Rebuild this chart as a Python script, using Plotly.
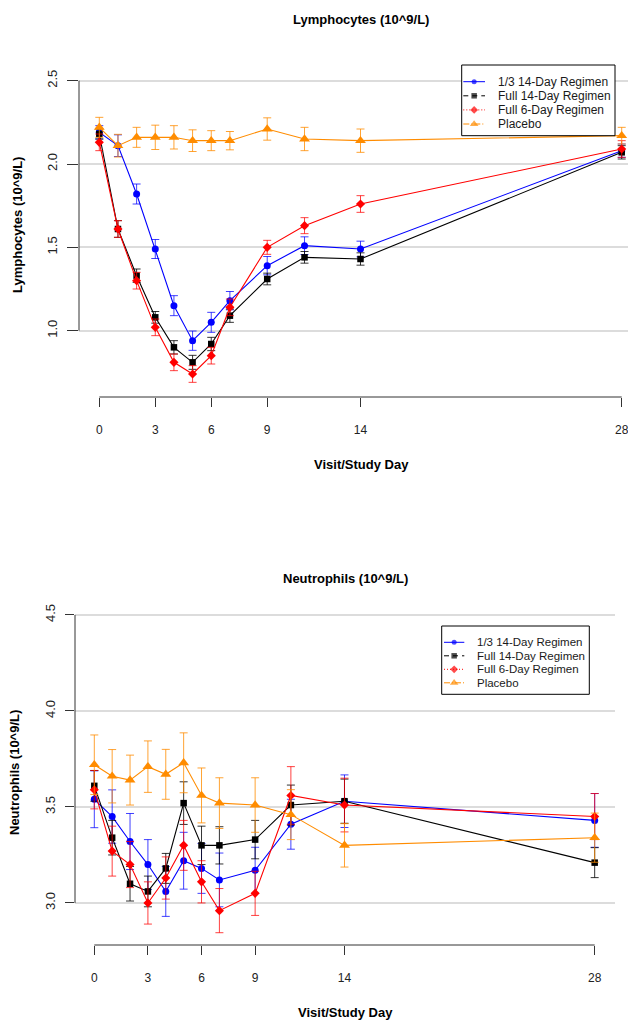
import plotly.graph_objects as go

# page body has an 8px default margin; the figure is sized/offset to fill the 636x1026 window
OFF = 8
W, H = 636 - OFF, 1026 - OFF

# ---------------- data ----------------
days = [0, 1, 2, 3, 4, 5, 6, 7, 9, 11, 14, 28]
x_tick_vals = [0, 3, 6, 9, 14, 28]
x_tick_text = ["0", "3", "6", "9", "14", "28"]

series_names = ["1/3 14-Day Regimen", "Full 14-Day Regimen", "Full 6-Day Regimen", "Placebo"]

lym_third14 = [2.19, 2.11, 1.82, 1.49, 1.15, 0.94, 1.05, 1.18, 1.39, 1.51, 1.49, 2.08]
lym_third14_se = [0.04, 0.065, 0.06, 0.057, 0.06, 0.058, 0.06, 0.055, 0.055, 0.053, 0.047, 0.04]
lym_full14 = [2.18, 1.61, 1.33, 1.08, 0.90, 0.81, 0.92, 1.09, 1.31, 1.44, 1.43, 2.07]
lym_full14_se = [0.03, 0.05, 0.04, 0.035, 0.04, 0.042, 0.04, 0.04, 0.035, 0.035, 0.037, 0.04]
lym_full6 = [2.13, 1.61, 1.30, 1.02, 0.81, 0.74, 0.85, 1.14, 1.50, 1.63, 1.76, 2.09]
lym_full6_se = [0.05, 0.05, 0.05, 0.05, 0.05, 0.05, 0.05, 0.05, 0.042, 0.048, 0.05, 0.05]
lym_placebo = [2.22, 2.11, 2.16, 2.16, 2.16, 2.14, 2.14, 2.14, 2.21, 2.15, 2.14, 2.17]
lym_placebo_se = [0.06, 0.068, 0.06, 0.073, 0.07, 0.065, 0.06, 0.055, 0.067, 0.07, 0.07, 0.05]
lym_y_ticks = [1.0, 1.5, 2.0, 2.5]

neu_third14 = [3.54, 3.45, 3.32, 3.20, 3.06, 3.22, 3.18, 3.12, 3.17, 3.41, 3.53, 3.43]
neu_third14_se = [0.148, 0.139, 0.146, 0.13, 0.13, 0.148, 0.13, 0.14, 0.12, 0.13, 0.137, 0.14]
neu_full14 = [3.61, 3.34, 3.10, 3.06, 3.18, 3.52, 3.30, 3.30, 3.33, 3.51, 3.53, 3.21]
neu_full14_se = [0.08, 0.09, 0.09, 0.08, 0.078, 0.111, 0.10, 0.097, 0.10, 0.104, 0.115, 0.078]
neu_full6 = [3.59, 3.27, 3.20, 3.00, 3.13, 3.30, 3.11, 2.96, 3.05, 3.56, 3.51, 3.45]
neu_full6_se = [0.10, 0.13, 0.12, 0.11, 0.11, 0.13, 0.11, 0.115, 0.115, 0.15, 0.14, 0.12]
neu_placebo = [3.72, 3.66, 3.64, 3.71, 3.67, 3.73, 3.56, 3.52, 3.51, 3.46, 3.30, 3.34]
neu_placebo_se = [0.155, 0.139, 0.13, 0.134, 0.13, 0.156, 0.143, 0.132, 0.142, 0.13, 0.113, 0.128]
neu_y_ticks = [3.0, 3.5, 4.0, 4.5]

# ---------------- styles ----------------
FONT = "Liberation Sans, Arial, sans-serif"
colors = ["#0000FF", "#000000", "#FF0000", "#FF8C00"]
err_colors = ["rgba(0,0,255,0.75)", "rgba(0,0,0,0.8)", "rgba(255,0,0,0.75)", "rgba(255,140,0,0.8)"]
symbols = ["circle", "square", "diamond", "triangle-up"]
sizes = [7, 6.5, 7, 9.5]
leg_sizes = [5, 5.5, 6, 7.5]
leg_dash = ["solid", "5px,4px", "1px,2px", "6px,2px,1px,2px"]
AX = "#333333"
GRID = "#DCDCDC"


def fx(p):
    return (p - OFF) / W


def fy(p):
    return 1 - (p - OFF) / H


fig = go.Figure()

panels = [
    dict(xa="x", ya="y",
         series=[(lym_third14, lym_third14_se), (lym_full14, lym_full14_se),
                 (lym_full6, lym_full6_se), (lym_placebo, lym_placebo_se)]),
    dict(xa="x2", ya="y2",
         series=[(neu_third14, neu_third14_se), (neu_full14, neu_full14_se),
                 (neu_full6, neu_full6_se), (neu_placebo, neu_placebo_se)]),
]

for p in panels:
    for i, (vals, se) in enumerate(p["series"]):
        fig.add_trace(go.Scatter(
            x=days, y=vals, xaxis=p["xa"], yaxis=p["ya"],
            mode="lines+markers", name=series_names[i], showlegend=False,
            line=dict(color=colors[i], width=1.1),
            marker=dict(symbol=symbols[i], size=sizes[i], color=colors[i], line=dict(width=0)),
            error_y=dict(type="data", array=se, visible=True, color=err_colors[i],
                         thickness=1, width=4),
            cliponaxis=False, hoverinfo="skip",
        ))

# ---------------- custom legends on a pixel overlay axis ----------------
legends = [
    dict(box=(461.7, 65, 615, 135.7), rows=[81.7, 95.8, 109.9, 124.0],
         seg=(463.3, 485), text_x=495.5, fs=12),
    dict(box=(441.7, 626, 589.3, 694.3), rows=[642.3, 655.8, 669.3, 682.8],
         seg=(444, 464.3), text_x=475, fs=11.5),
]
annotations = []
shapes = []
for lg in legends:
    x0, y0, x1, y1 = lg["box"]
    shapes.append(dict(type="rect", xref="x3", yref="y3", x0=x0, x1=x1, y0=y0, y1=y1,
                       line=dict(color="#000000", width=1), fillcolor="white", layer="below"))
    s0, s1 = lg["seg"]
    for i, ry in enumerate(lg["rows"]):
        fig.add_trace(go.Scatter(
            x=[s0, (s0 + s1) / 2, s1], y=[ry, ry, ry], xaxis="x3", yaxis="y3",
            mode="lines+markers", showlegend=False, hoverinfo="skip",
            line=dict(color=colors[i], width=1, dash=leg_dash[i]),
            marker=dict(symbol=symbols[i], size=[0, leg_sizes[i], 0], color=colors[i],
                        line=dict(width=0)),
        ))
        annotations.append(dict(xref="x3", yref="y3", x=lg["text_x"], y=ry, text=series_names[i],
                                showarrow=False, xanchor="left", yanchor="middle",
                                font=dict(family=FONT, size=lg["fs"], color="#1a1a1a")))

# ---------------- axis lines (span ticks only, R style) ----------------
for xa, ya, yt in [("x", "y", lym_y_ticks), ("x2", "y2", neu_y_ticks)]:
    shapes.append(dict(type="line", xref=xa, yref=ya + " domain", x0=min(x_tick_vals), x1=max(x_tick_vals),
                       y0=0, y1=0, line=dict(color=AX, width=1)))
    shapes.append(dict(type="line", xref=xa + " domain", yref=ya, x0=0, x1=0, y0=min(yt), y1=max(yt),
                       line=dict(color=AX, width=1)))

# ---------------- titles ----------------
def txt(x, y, s, size=13, angle=0, bold=True):
    annotations.append(dict(xref="paper", yref="paper", x=fx(x), y=fy(y),
                            text=("<b>%s</b>" % s) if bold else s, showarrow=False,
                            xanchor="center", yanchor="middle", textangle=angle,
                            font=dict(family=FONT, size=size, color="#000000")))


txt(361, 20, "Lymphocytes (10^9/L)")
txt(361, 465, "Visit/Study Day")
txt(18, 225, "Lymphocytes (10^9/L)", angle=-90)
txt(345, 578, "Neutrophils (10^9/L)")
txt(345, 1012, "Visit/Study Day")
txt(14, 773, "Neutrophils (10^9/L)", angle=-90)

tick_font = dict(family=FONT, size=12, color="#222222")
ytick_font = dict(family=FONT, size=13, color="#222222")

common_x = dict(tickmode="array", tickvals=x_tick_vals, ticktext=x_tick_text, ticks="outside",
                tickcolor=AX, tickwidth=1, showgrid=False, zeroline=False, showline=False,
                tickfont=tick_font, ticklabelstandoff=13)
common_y = dict(tickmode="array", ticks="outside", tickcolor=AX, tickwidth=1,
                showgrid=True, gridcolor=GRID, gridwidth=1.5, zeroline=False, showline=False,
                tickfont=ytick_font, tickangle=-90, tickformat=".1f", ticklabelstandoff=5)

fig.update_layout(
    width=W, height=H,
    margin=dict(l=0, r=0, t=0, b=0),
    paper_bgcolor="white", plot_bgcolor="rgba(0,0,0,0)",
    showlegend=False,
    xaxis=dict(common_x, domain=[fx(79), fx(630)], range=[-1.088, 28.445], anchor="y", ticklen=9),
    yaxis=dict(common_y, domain=[fy(397), fy(60)], range=[0.602, 2.624], anchor="x",
               tickvals=lym_y_ticks, ticklen=11),
    xaxis2=dict(common_x, domain=[fx(75), fx(615)], range=[-1.08, 29.137], anchor="y2", ticklen=9),
    yaxis2=dict(common_y, domain=[fy(945), fy(595)], range=[2.781, 4.604], anchor="x2",
                tickvals=neu_y_ticks, ticklen=9),
    xaxis3=dict(domain=[0, 1], range=[OFF, OFF + W], visible=False, anchor="y3", fixedrange=True),
    yaxis3=dict(domain=[0, 1], range=[OFF + H, OFF], visible=False, anchor="x3", fixedrange=True),
    shapes=shapes,
    annotations=annotations,
)

fig.write_html("out.html")
